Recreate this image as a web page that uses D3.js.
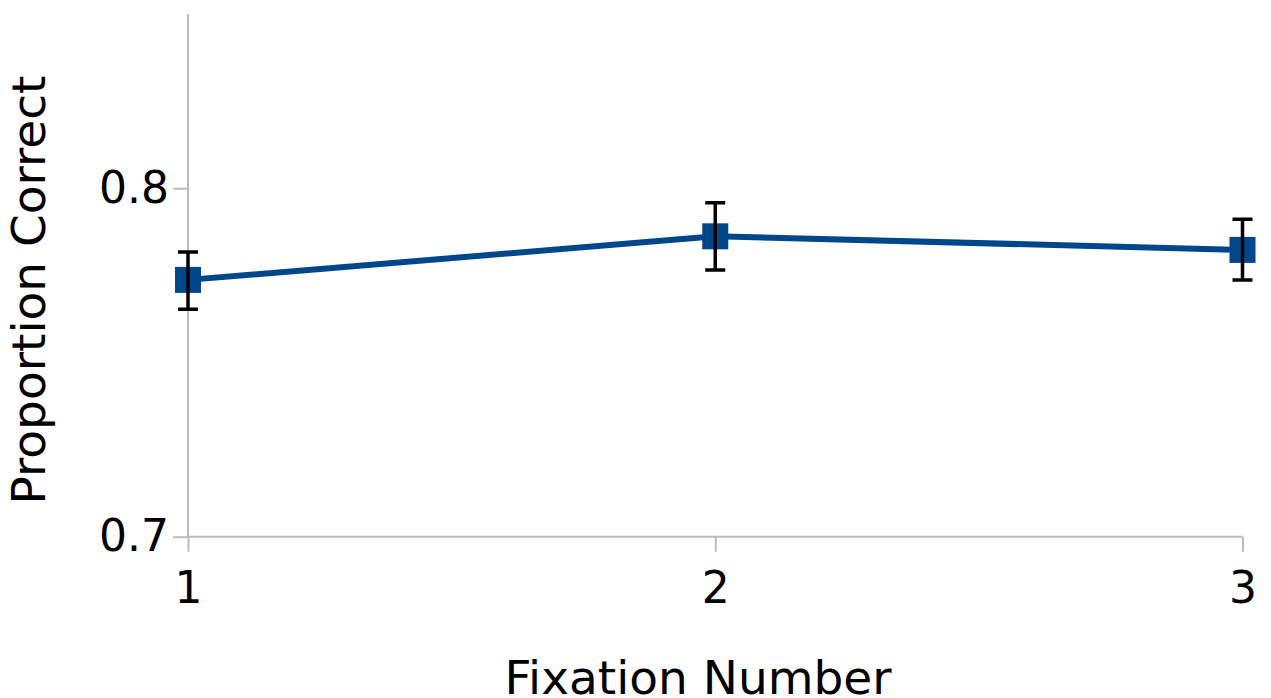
<!DOCTYPE html>
<html>
<head>
<meta charset="utf-8">
<script src="https://cdn.jsdelivr.net/npm/d3@7"></script>
<style>
  html, body { margin: 0; padding: 0; background: #fff; }
  svg { display: block; font-family: "DejaVu Sans", sans-serif; }
</style>
</head>
<body>
<svg id="chart" width="1271" height="698"></svg>
<script>
const categories = [1, 2, 3];
const values = [0.7737, 0.7862, 0.7823];
const errLow = [0.7653, 0.7765, 0.7737];
const errHigh = [0.7817, 0.7958, 0.7911];
const yTicks = [0.7, 0.8];
const xLabel = "Fixation Number";
const yLabel = "Proportion Correct";

const svg = d3.select("#chart");
const x = d3.scaleLinear().domain([1, 3]).range([188, 1242.5]);
const y = d3.scaleLinear().domain([0.7, 0.85]).range([536.7, 14]);
const axisColor = "#bcbcbc";

// Y axis
const yAxis = svg.append("g").attr("transform", `translate(${x(1)},0)`)
  .call(d3.axisLeft(y).tickValues(yTicks).tickSize(15).tickPadding(4).tickFormat(d3.format(".1f")));
yAxis.select(".domain").attr("d", `M0,${y.range()[1]}V${y.range()[0]}`);
// X axis
const xAxis = svg.append("g").attr("transform", `translate(0,${y(0.7)})`)
  .call(d3.axisBottom(x).tickValues(categories).tickSize(15).tickPadding(20).tickFormat(d3.format("d")));
xAxis.select(".domain").attr("d", `M${x.range()[0]},0H${x.range()[1]}`);

svg.selectAll(".domain, .tick line").attr("stroke", axisColor).attr("stroke-width", 2);
svg.selectAll(".tick text").attr("fill", "#000").attr("font-size", 44)
  .attr("font-family", "DejaVu Sans, sans-serif");

// Line
const line = d3.line().x((d, i) => x(categories[i])).y(d => y(d));
svg.append("path").datum(values).attr("d", line)
  .attr("fill", "none").attr("stroke", "#00468a").attr("stroke-width", 6);

// Markers
const ms = 26;
svg.selectAll("rect.m").data(values).enter().append("rect")
  .attr("x", (d, i) => x(categories[i]) - ms / 2)
  .attr("y", d => y(d) - ms / 2)
  .attr("width", ms).attr("height", ms)
  .attr("fill", "#00468a");

// Error bars
const cw = 10;
const eb = svg.append("g").attr("stroke", "#000").attr("stroke-width", 3.5).attr("fill", "none");
categories.forEach((c, i) => {
  const cx = x(c);
  eb.append("path").attr("d",
    `M${cx},${y(errLow[i])}V${y(errHigh[i])}` +
    `M${cx - cw},${y(errLow[i])}H${cx + cw}` +
    `M${cx - cw},${y(errHigh[i])}H${cx + cw}`);
});

// Axis titles
svg.append("text").attr("x", 698).attr("y", 694)
  .attr("text-anchor", "middle").attr("font-size", 47).attr("fill", "#000").text(xLabel);
svg.append("text").attr("transform", `translate(45,${290}) rotate(-90)`)
  .attr("text-anchor", "middle").attr("font-size", 47).attr("fill", "#000").text(yLabel);
</script>
</body>
</html>
